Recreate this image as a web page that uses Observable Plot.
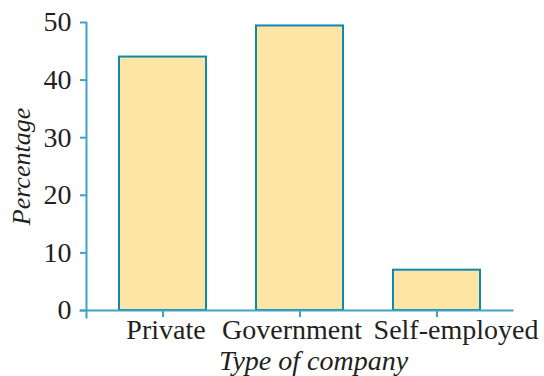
<!DOCTYPE html>
<html>
<head>
<meta charset="utf-8">
<script src="https://cdn.jsdelivr.net/npm/d3@7"></script>
<script src="https://cdn.jsdelivr.net/npm/@observablehq/plot@0.6"></script>
<style>
  html, body { margin: 0; padding: 0; background: #fff; }
</style>
</head>
<body>
<div id="chart"></div>
<script>
// Share of workers by type of company
const companyTypes = ["Private", "Government", "Self-employed"];
const percentages = [44, 49.4, 7];
const yTicks = [0, 10, 20, 30, 40, 50];

const rows = companyTypes.map((type, i) => ({type, pct: percentages[i]}));

const axisColor = "#3ea3c4";
const barStroke = "#0f88ad";
const barFill = "#fee5a6";
const ink = "#231f20";
const font = "'Liberation Serif', 'Times New Roman', serif";

// Category names are nudged sideways so the long labels do not collide
const nudge = {"Private": 3, "Government": -8, "Self-employed": 19};
const categoryLabels = companyTypes.map((name) =>
  Plot.text(rows.filter((d) => d.type === name), {
    x: "type", text: "type", frameAnchor: "bottom", lineAnchor: "top",
    dx: nudge[name], dy: 9, fontSize: 28, fill: ink
  })
);

const chart = Plot.plot({
  width: 544,
  height: 376,
  marginTop: 22,
  marginBottom: 66,
  marginLeft: 86,
  marginRight: 32,
  style: {fontFamily: font, fontSize: "27px", color: ink, background: "#fff"},
  x: {domain: companyTypes, paddingInner: 0.368, paddingOuter: 0.235, label: null},
  y: {domain: [0, 50], label: null},
  marks: [
    Plot.barY(rows, {x: "type", y: "pct", fill: barFill, stroke: barStroke, strokeWidth: 2}),
    Plot.frame({anchor: "left", stroke: axisColor, strokeWidth: 2, insetBottom: -7}),
    Plot.frame({anchor: "bottom", stroke: axisColor, strokeWidth: 2, insetLeft: -6}),
    Plot.axisY(yTicks, {ticks: yTicks, tickSize: 6, tickPadding: 9, stroke: axisColor, strokeWidth: 2, fill: ink, fontSize: 28, label: null}),
    Plot.axisX({tickSize: 7, tickFormat: () => "", stroke: axisColor, strokeWidth: 2, label: null}),
    ...categoryLabels,
    Plot.text(["Type of company"], {frameAnchor: "bottom", lineAnchor: "middle", textAnchor: "middle", dx: 14, dy: 51, fontStyle: "italic", fontSize: 28, fill: ink}),
    Plot.text(["Percentage"], {frameAnchor: "left", lineAnchor: "middle", textAnchor: "middle", dx: -65, dy: 0, rotate: -90, fontStyle: "italic", fontSize: 26, fill: ink})
  ]
});

document.getElementById("chart").append(chart);
</script>
</body>
</html>
